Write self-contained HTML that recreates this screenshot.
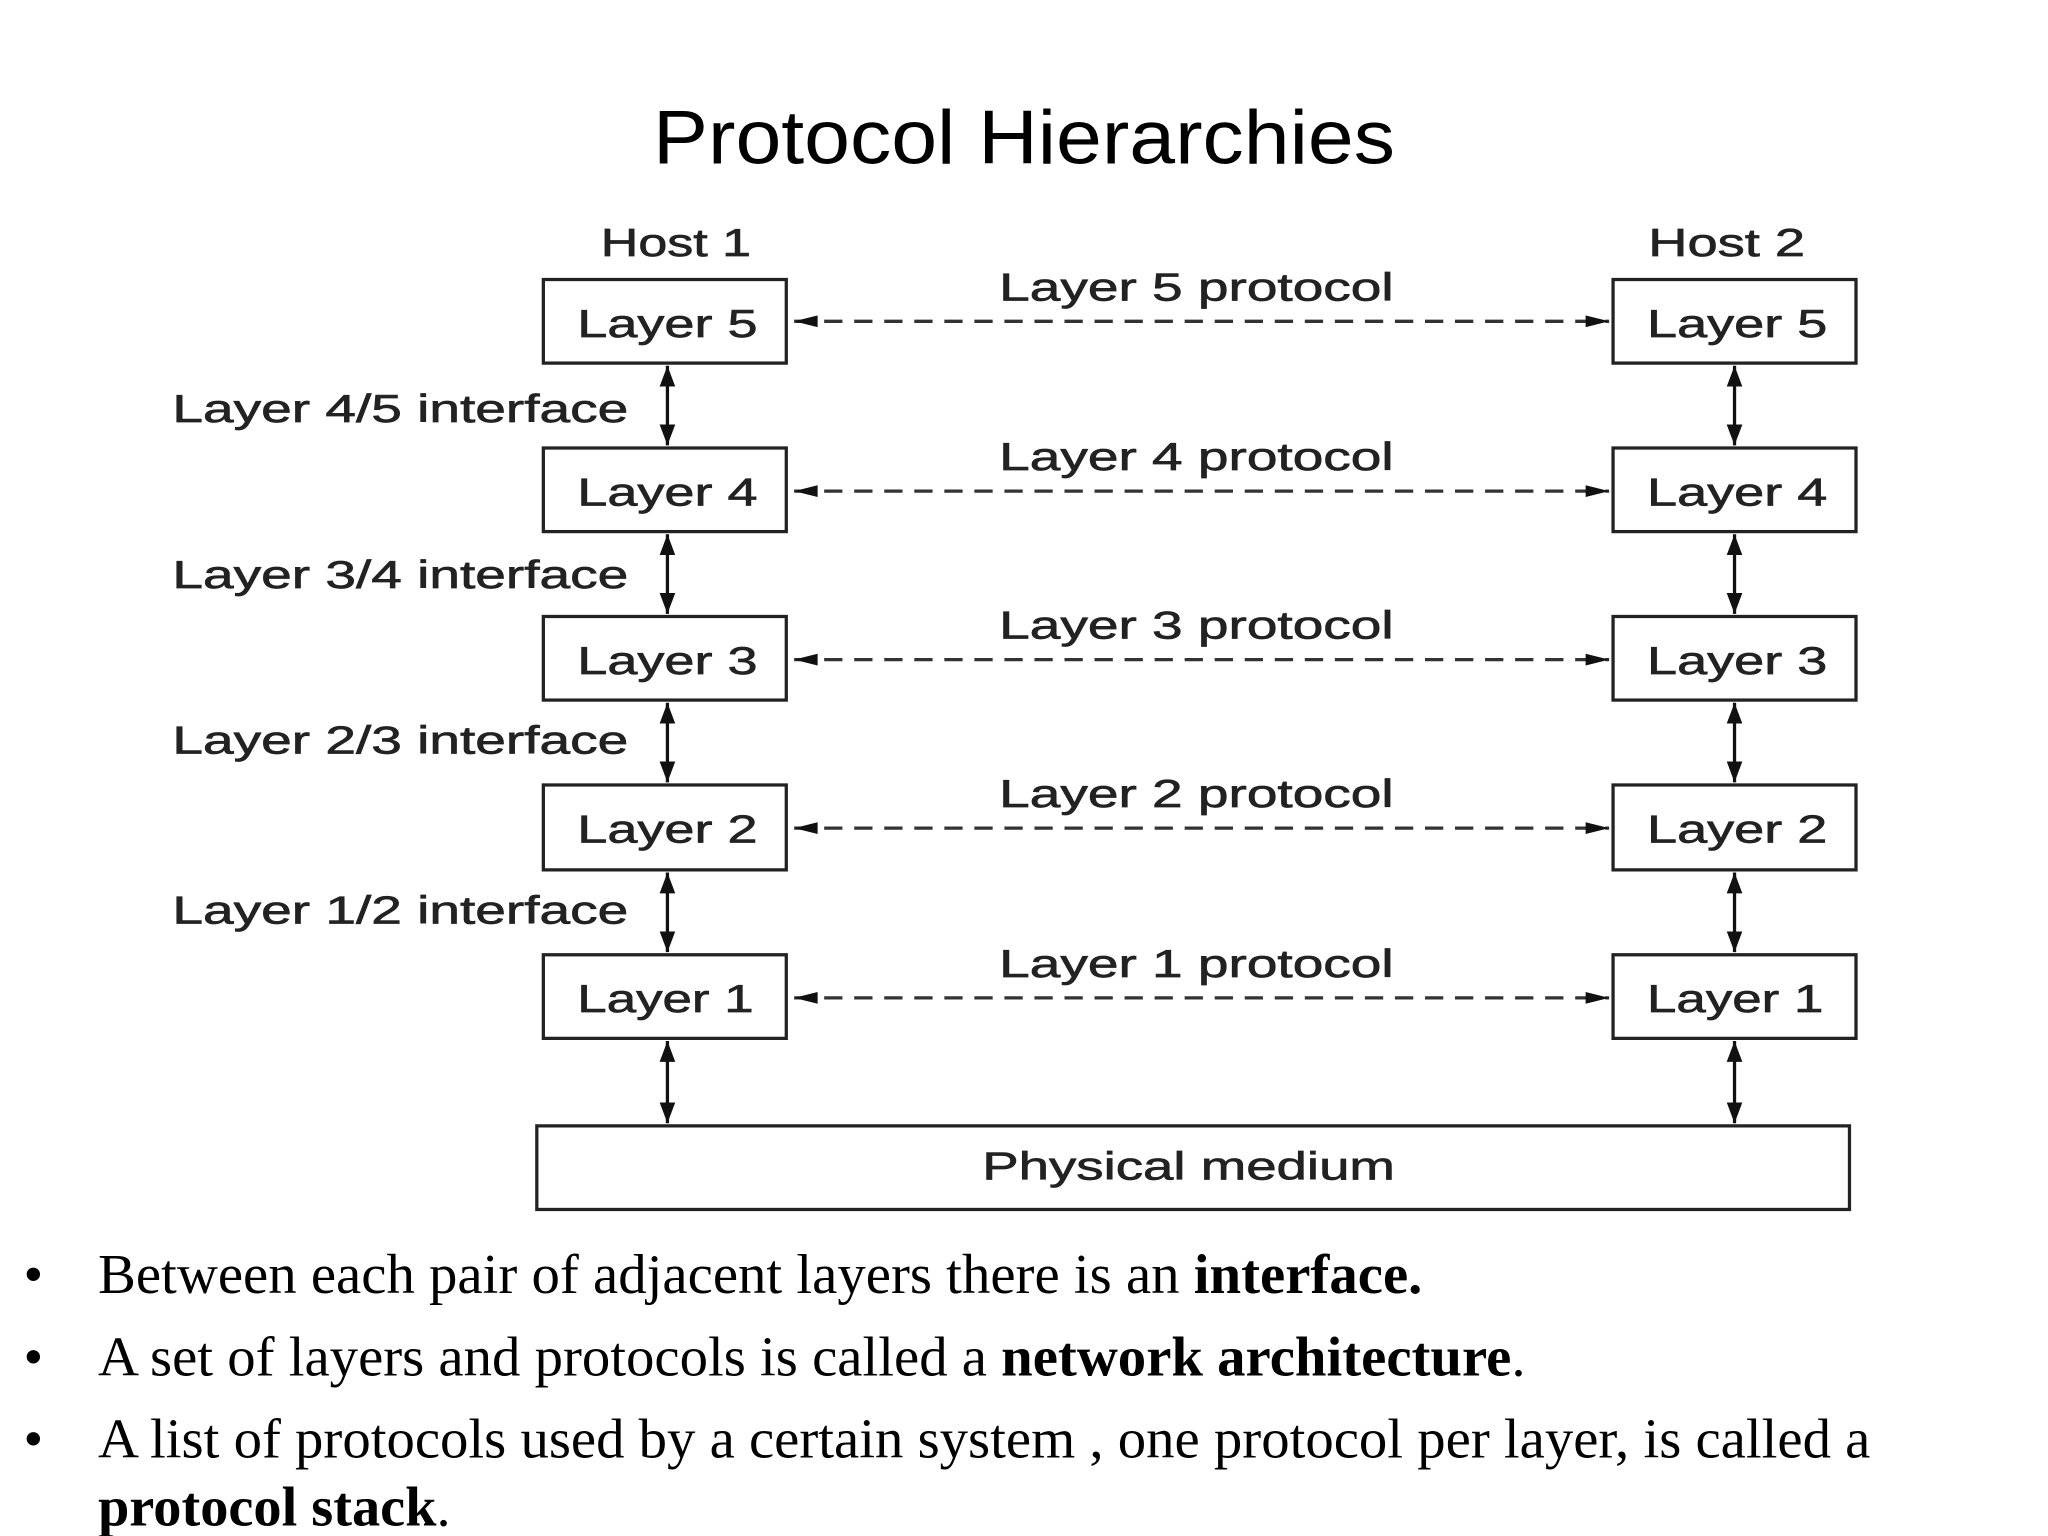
<!DOCTYPE html>
<html><head><meta charset="utf-8"><style>html,body{margin:0;padding:0;background:#fff}svg{display:block}</style></head>
<body>
<svg width="2048" height="1536" viewBox="0 0 1568 1176" xmlns="http://www.w3.org/2000/svg">
<defs>
<marker id="a" viewBox="0 0 16 12" refX="16" refY="6" markerWidth="16" markerHeight="12" markerUnits="userSpaceOnUse" orient="auto-start-reverse"><path d="M0,0 L16,6 L0,12 z" fill="#111"/></marker>
<marker id="h" viewBox="0 0 20 10" refX="20" refY="5" markerWidth="26" markerHeight="9" markerUnits="userSpaceOnUse" orient="auto-start-reverse"><path d="M0,0 L20,5 L0,10 z" fill="#111"/></marker>
</defs>
<rect width="1568" height="1176" fill="#fff"/>
<text x="784" y="125" text-anchor="middle" font-family="Liberation Sans, sans-serif" font-size="58" textLength="568" lengthAdjust="spacingAndGlyphs" fill="#000">Protocol Hierarchies</text>
<g font-family="Liberation Sans, sans-serif" font-size="30" fill="#222" stroke="#222" stroke-width="0.5">
<text x="460" y="196" textLength="115" lengthAdjust="spacingAndGlyphs">Host 1</text>
<text x="1262" y="196" textLength="120" lengthAdjust="spacingAndGlyphs">Host 2</text>
</g>
<g fill="none" stroke="#222" stroke-width="2.5">
<rect x="416" y="214" width="186" height="64"/><rect x="416" y="343" width="186" height="64"/><rect x="416" y="472" width="186" height="64"/><rect x="416" y="601" width="186" height="65"/><rect x="416" y="731" width="186" height="64"/>
<rect x="1235" y="214" width="186" height="64"/><rect x="1235" y="343" width="186" height="64"/><rect x="1235" y="472" width="186" height="64"/><rect x="1235" y="601" width="186" height="65"/><rect x="1235" y="731" width="186" height="64"/>
<rect x="411" y="862" width="1005" height="64"/>
</g>
<g stroke="#111" stroke-width="2.5" marker-start="url(#a)" marker-end="url(#a)">
<line x1="511" y1="280" x2="511" y2="341"/><line x1="511" y1="409" x2="511" y2="470"/><line x1="511" y1="538" x2="511" y2="599"/><line x1="511" y1="668" x2="511" y2="729"/><line x1="511" y1="797" x2="511" y2="860"/>
<line x1="1328" y1="280" x2="1328" y2="341"/><line x1="1328" y1="409" x2="1328" y2="470"/><line x1="1328" y1="538" x2="1328" y2="599"/><line x1="1328" y1="668" x2="1328" y2="729"/><line x1="1328" y1="797" x2="1328" y2="860"/>
</g>
<g stroke="#333" stroke-width="2.5" stroke-dasharray="14,9" marker-start="url(#h)" marker-end="url(#h)">
<line x1="608" y1="246" x2="1232" y2="246"/><line x1="608" y1="376" x2="1232" y2="376"/><line x1="608" y1="505" x2="1232" y2="505"/><line x1="608" y1="634" x2="1232" y2="634"/><line x1="608" y1="764" x2="1232" y2="764"/>
</g>
<g font-family="Liberation Sans, sans-serif" font-size="30" fill="#222" stroke="#222" stroke-width="0.5">
<text x="442" y="258" textLength="138" lengthAdjust="spacingAndGlyphs">Layer 5</text>
<text x="442" y="387" textLength="138" lengthAdjust="spacingAndGlyphs">Layer 4</text>
<text x="442" y="516" textLength="138" lengthAdjust="spacingAndGlyphs">Layer 3</text>
<text x="442" y="645" textLength="138" lengthAdjust="spacingAndGlyphs">Layer 2</text>
<text x="442" y="775" textLength="135" lengthAdjust="spacingAndGlyphs">Layer 1</text>
<text x="1261" y="258" textLength="138" lengthAdjust="spacingAndGlyphs">Layer 5</text>
<text x="1261" y="387" textLength="138" lengthAdjust="spacingAndGlyphs">Layer 4</text>
<text x="1261" y="516" textLength="138" lengthAdjust="spacingAndGlyphs">Layer 3</text>
<text x="1261" y="645" textLength="138" lengthAdjust="spacingAndGlyphs">Layer 2</text>
<text x="1261" y="775" textLength="135" lengthAdjust="spacingAndGlyphs">Layer 1</text>
<text x="765" y="230" textLength="302" lengthAdjust="spacingAndGlyphs">Layer 5 protocol</text>
<text x="765" y="360" textLength="302" lengthAdjust="spacingAndGlyphs">Layer 4 protocol</text>
<text x="765" y="489" textLength="302" lengthAdjust="spacingAndGlyphs">Layer 3 protocol</text>
<text x="765" y="618" textLength="302" lengthAdjust="spacingAndGlyphs">Layer 2 protocol</text>
<text x="765" y="748" textLength="302" lengthAdjust="spacingAndGlyphs">Layer 1 protocol</text>
<text x="132" y="323" textLength="349" lengthAdjust="spacingAndGlyphs">Layer 4/5 interface</text>
<text x="132" y="450" textLength="349" lengthAdjust="spacingAndGlyphs">Layer 3/4 interface</text>
<text x="132" y="577" textLength="349" lengthAdjust="spacingAndGlyphs">Layer 2/3 interface</text>
<text x="132" y="707" textLength="349" lengthAdjust="spacingAndGlyphs">Layer 1/2 interface</text>
<text x="752" y="903" textLength="316" lengthAdjust="spacingAndGlyphs">Physical medium</text>
</g>
<g font-family="Liberation Serif, serif" font-size="43" fill="#000">
<text x="18" y="990">•</text><text x="18" y="1053">•</text><text x="18" y="1116">•</text>
<text x="75" y="990" textLength="1014" lengthAdjust="spacingAndGlyphs">Between each pair of adjacent layers there is an <tspan font-weight="bold">interface.</tspan></text>
<text x="75" y="1053" textLength="1093" lengthAdjust="spacingAndGlyphs">A set of layers and protocols is called a <tspan font-weight="bold">network architecture</tspan>.</text>
<text x="75" y="1116" textLength="1357" lengthAdjust="spacingAndGlyphs">A list of protocols used by a certain system , one protocol per layer, is called a</text>
<text x="75" y="1168" textLength="270" lengthAdjust="spacingAndGlyphs"><tspan font-weight="bold">protocol stack</tspan>.</text>
</g>
</svg>
</body></html>
